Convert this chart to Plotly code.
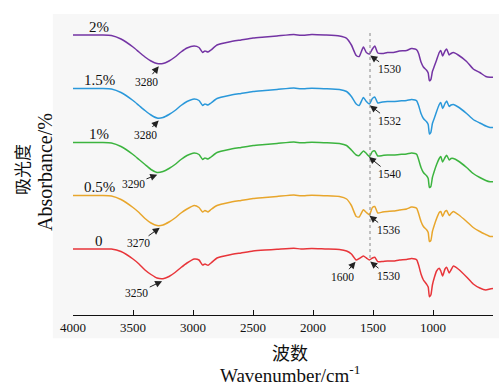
import numpy as np
import plotly.graph_objects as go

# FTIR spectra of films with different additive contents (stacked, arbitrary absorbance units)
WAVENUMBER = [
    4000, 3750, 3680, 3600, 3500, 3450, 3400, 3350, 3300, 3250,
    3200, 3150, 3100, 3050, 2990, 2950, 2920, 2900, 2875, 2850,
    2800, 2700, 2600, 2500, 2400, 2300, 2160, 2100, 2010, 1900,
    1780, 1720, 1680, 1640, 1615, 1580, 1555, 1530, 1505, 1485,
    1460, 1420, 1380, 1330, 1280, 1220, 1180, 1150, 1135, 1120,
    1100, 1080, 1055, 1040, 1030, 1018, 1005, 990, 970, 948,
    935, 920, 900, 886, 865, 850, 830, 790, 720, 665,
    610, 560, 525, 500,
]

SERIES_NAMES = ["0", "0.5%", "1%", "1.5%", "2%"]

SPEC_0 = [
    0, 0, 0, -0.25, -1.0, -1.5, -2.1, -2.55, -2.9, -2.97,
    -2.75, -2.35, -1.85, -1.4, -1.0, -1.1, -1.6, -1.5, -1.63, -1.4,
    -0.9, -0.6, -0.4, -0.2, -0.1, -0.03, 0.08, 0, 0.05, 0,
    -0.05, -0.2, -0.5, -1.1, -0.95, -0.7, -0.9, -1.1, -0.9, -0.83,
    -1.27, -1.25, -1.2, -1.2, -1.1, -1.05, -0.95, -1.0, -1.1, -1.6,
    -2.5, -3.1, -3.5, -3.8, -4.77, -4.6, -3.6, -2.9, -2.2, -1.93,
    -2.2, -2.7, -2.0, -1.83, -2.4, -2.1, -1.7, -2.0, -2.8, -3.5,
    -3.9, -4.1, -4.0, -3.95,
]
SPEC_05 = [
    0, 0, -0.05, -0.4, -1.2, -1.7, -2.3, -2.75, -3.0, -2.95,
    -2.65, -2.25, -1.75, -1.35, -1.0, -1.2, -1.65, -1.5, -1.65, -1.4,
    -1.0, -0.7, -0.5, -0.3, -0.2, -0.1, 0.05, -0.03, 0.03, -0.02,
    -0.1, -0.35, -1.0, -2.1, -2.15, -1.43, -1.7, -1.93, -1.2, -1.1,
    -1.75, -1.65, -1.6, -1.55, -1.45, -1.35, -1.16, -1.2, -1.3, -1.8,
    -2.6, -3.1, -3.4, -3.7, -4.6, -4.5, -3.6, -3.0, -2.3, -1.7,
    -1.6, -2.1, -1.6, -1.5, -2.0, -1.8, -1.6, -1.9, -2.6, -3.2,
    -3.6, -3.9, -4.1, -4.1,
]
SPEC_1 = [
    0, 0, -0.05, -0.4, -1.2, -1.7, -2.2, -2.7, -3.0, -2.9,
    -2.6, -2.2, -1.7, -1.3, -1.05, -1.2, -1.7, -1.55, -1.65, -1.45,
    -1.0, -0.7, -0.5, -0.3, -0.2, -0.1, 0.05, -0.03, 0.03, -0.02,
    -0.1, -0.3, -0.75, -1.25, -1.3, -0.85, -1.1, -1.4, -0.9, -0.85,
    -1.35, -1.3, -1.25, -1.25, -1.2, -1.15, -1.05, -1.1, -1.2, -1.7,
    -2.5, -3.0, -3.3, -3.6, -4.5, -4.4, -3.5, -2.9, -2.2, -1.6,
    -1.4, -1.95, -1.5, -1.27, -1.75, -1.6, -1.6, -1.85, -2.5, -3.1,
    -3.5, -3.8, -3.93, -3.93,
]
SPEC_15 = [
    0, 0, -0.05, -0.4, -1.2, -1.7, -2.2, -2.65, -2.95, -2.9,
    -2.6, -2.2, -1.7, -1.3, -1.05, -1.2, -1.7, -1.55, -1.65, -1.45,
    -1.0, -0.7, -0.5, -0.3, -0.2, -0.1, 0.05, -0.03, 0.03, -0.02,
    -0.1, -0.3, -0.8, -1.55, -1.7, -0.9, -1.3, -1.55, -1.0, -0.85,
    -1.45, -1.35, -1.3, -1.3, -1.25, -1.2, -1.1, -1.15, -1.25, -1.7,
    -2.5, -3.0, -3.3, -3.6, -4.55, -4.4, -3.5, -3.0, -2.3, -1.6,
    -1.4, -2.0, -1.5, -1.25, -1.8, -1.65, -1.6, -1.85, -2.5, -3.1,
    -3.45, -3.75, -3.9, -3.9,
]
SPEC_2 = [
    0, 0, -0.05, -0.4, -1.2, -1.7, -2.2, -2.6, -2.85, -2.85,
    -2.6, -2.2, -1.7, -1.3, -1.1, -1.25, -1.75, -1.6, -1.7, -1.5,
    -1.0, -0.7, -0.5, -0.3, -0.2, -0.1, 0.05, -0.03, 0.05, 0,
    -0.1, -0.33, -1.0, -2.05, -2.15, -1.2, -1.75, -1.9, -1.4, -1.1,
    -1.8, -1.85, -1.75, -1.75, -1.6, -1.55, -1.35, -1.4, -1.5, -1.85,
    -2.7, -3.2, -3.5, -3.8, -4.57, -4.45, -3.65, -3.15, -2.5, -1.75,
    -1.55, -2.1, -1.6, -1.4, -2.0, -1.85, -1.75, -2.0, -2.65, -3.4,
    -3.75, -4.15, -4.23, -4.23,
]

SPECTRA = [SPEC_0, SPEC_05, SPEC_1, SPEC_15, SPEC_2]

# O-H stretching band positions and 15xx band positions labelled on each curve
OH_PEAKS = [3250, 3270, 3290, 3280, 3280]
AMIDE_PEAKS = [1530, 1536, 1540, 1532, 1530]
EXTRA_PEAK_LABEL = "1600"
EXTRA_PEAK_POS = 1640

XTICKS = [4000, 3500, 3000, 2500, 2000, 1500, 1000, 500]

# vertical stacking of the curves
OFFSETS = [6.6, 11.95, 17.25, 22.65, 28.0]
COLORS = ["#e8353a", "#e8a62c", "#3cb43f", "#2a98da", "#7434a4"]

SERIF = "Liberation Serif"
CJK = "Noto Sans CJK SC"

for s in SPECTRA:
    assert len(s) == len(WAVENUMBER)

fig = go.Figure()
wn = np.array(WAVENUMBER, dtype=float)

for name, spec, off, col in zip(SERIES_NAMES, SPECTRA, OFFSETS, COLORS):
    y = np.array(spec) + off
    fig.add_trace(go.Scatter(
        x=wn, y=y, mode="lines", name=name,
        line=dict(color=col, width=1.5, shape="spline", smoothing=0.5),
        showlegend=False, hoverinfo="skip",
    ))
    # series label above the flat start of each curve
    fig.add_annotation(x=3780, y=off + 0.85, text=name, showarrow=False,
                       font=dict(family=SERIF, size=15, color="#111"),
                       xanchor="center", yanchor="middle")


def on_curve(i, pos):
    return float(np.interp(pos, wn[::-1], (np.array(SPECTRA[i]) + OFFSETS[i])[::-1]))


arrow_style = dict(showarrow=True, arrowhead=2, arrowsize=1.4, arrowwidth=1,
                   arrowcolor="#222", standoff=1, axref="x", ayref="y",
                   font=dict(family=SERIF, size=11.5, color="#111"))

# O-H band labels (text placed lower-left of the minimum)
oh_text_pos = [(3469, 2.17), (3458, 7.17), (3496, 13.1), (3400, 18.05), (3388, 23.33)]
for i, (pk, (tx, ty)) in enumerate(zip(OH_PEAKS, oh_text_pos)):
    fig.add_annotation(x=pk, y=on_curve(i, pk) - 0.2, ax=tx, ay=ty,
                       text=str(pk), **arrow_style)

# 15xx band labels (text placed lower-right)
am_text_pos = [(1375, 3.93), (1375, 8.5), (1360, 14.1), (1360, 19.43), (1360, 24.57)]
for i, (pk, (tx, ty)) in enumerate(zip(AMIDE_PEAKS, am_text_pos)):
    fig.add_annotation(x=pk, y=on_curve(i, pk) - 0.1, ax=tx, ay=ty,
                       text=str(pk), **arrow_style)

fig.add_annotation(x=EXTRA_PEAK_POS, y=on_curve(0, EXTRA_PEAK_POS) - 0.1, ax=1754, ay=3.83,
                   text=EXTRA_PEAK_LABEL, **arrow_style)

# dashed reference line through the 15xx band
fig.add_shape(type="line", xref="x", yref="y", x0=1525, x1=1525, y0=5.7, y1=28.5,
              line=dict(color="#888", width=1, dash="dot"))

# light panel behind plot and tick labels
fig.add_shape(type="rect", xref="paper", yref="paper", x0=-0.048, x1=1.02,
              y0=-0.077, y1=1.0, fillcolor="#f7f7f7", line=dict(width=0), layer="below")

# axis titles
fig.add_annotation(xref="paper", yref="paper", x=0.517, y=-0.123, text="波数",
                   showarrow=False, xanchor="center", yanchor="middle",
                   font=dict(family=CJK, size=18, color="#111"))
fig.add_annotation(xref="paper", yref="paper", x=0.517, y=-0.197,
                   text="Wavenumber/cm<sup>-1</sup>", showarrow=False,
                   xanchor="center", yanchor="middle",
                   font=dict(family=SERIF, size=19, color="#111"))
fig.add_annotation(xref="paper", yref="paper", x=-0.124, y=0.485, text="吸光度",
                   textangle=-90, showarrow=False, xanchor="center", yanchor="middle",
                   font=dict(family=CJK, size=17, color="#111"))
fig.add_annotation(xref="paper", yref="paper", x=-0.067, y=0.475, text="Absorbance/%",
                   textangle=-90, showarrow=False, xanchor="center", yanchor="middle",
                   font=dict(family=SERIF, size=20, color="#111"))

fig.update_xaxes(range=[4000, 500], tickvals=XTICKS, ticktext=[str(t) for t in XTICKS],
                 ticks="inside", ticklen=5, tickwidth=1, tickcolor="#111",
                 showline=True, linecolor="#111", linewidth=1.2,
                 showgrid=False, zeroline=False,
                 tickfont=dict(family=SERIF, size=13, color="#111"))
fig.update_yaxes(range=[0, 30.1], visible=False, showgrid=False, zeroline=False)

fig.update_layout(
    width=499, height=385,
    margin=dict(l=73, r=6, t=14, b=70),
    paper_bgcolor="white", plot_bgcolor="rgba(0,0,0,0)",
    font=dict(family=SERIF),
)

fig.write_html("out.html")
